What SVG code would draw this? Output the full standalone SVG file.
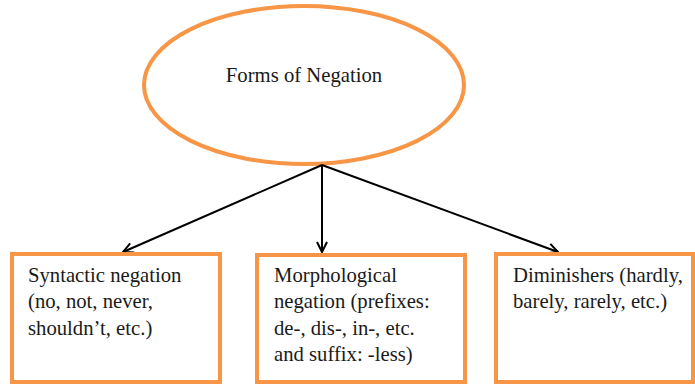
<svg xmlns="http://www.w3.org/2000/svg" width="695" height="385" viewBox="0 0 695 385">
<style>
.n{fill:#fff;stroke:#F79646;stroke-width:4}
.t{font-family:"Liberation Serif","Times New Roman",serif;font-size:20.7px;fill:#1a1a1a}
.c{stroke:#000;stroke-width:2;fill:none}
</style>
<defs>
<marker id="a" viewBox="0 0 12 12" refX="11" refY="6" markerWidth="12" markerHeight="12" markerUnits="userSpaceOnUse" orient="auto">
<path d="M1,1 L11,6 L1,11" fill="none" stroke="#000" stroke-width="2"/>
</marker>
</defs>
<rect width="695" height="385" fill="#fff"/>
<g id="root">
<ellipse class="n" cx="304" cy="85" rx="160" ry="79"/>
<text class="t" x="304" y="82" text-anchor="middle">Forms of Negation</text>
</g>
<g id="connectors">
<line class="c" x1="322" y1="165" x2="123" y2="252" marker-end="url(#a)"/>
<line class="c" x1="322" y1="165" x2="322" y2="252" marker-end="url(#a)"/>
<line class="c" x1="322" y1="165" x2="558" y2="252" marker-end="url(#a)"/>
</g>
<g id="syntactic">
<rect class="n" x="12" y="254" width="208" height="128"/>
<text class="t" x="28" y="282">Syntactic negation</text>
<text class="t" x="28" y="308">(no, not, never,</text>
<text class="t" x="28" y="335">shouldn’t, etc.)</text>
</g>
<g id="morphological">
<rect class="n" x="257" y="255" width="208" height="127"/>
<text class="t" x="274" y="282">Morphological</text>
<text class="t" x="274" y="308">negation (prefixes:</text>
<text class="t" x="274" y="335">de-, dis-, in-, etc.</text>
<text class="t" x="274" y="361">and suffix: -less)</text>
</g>
<g id="diminishers">
<rect class="n" x="496" y="254" width="197" height="128"/>
<text class="t" x="513" y="282">Diminishers (hardly,</text>
<text class="t" x="513" y="308">barely, rarely, etc.)</text>
</g>
</svg>
